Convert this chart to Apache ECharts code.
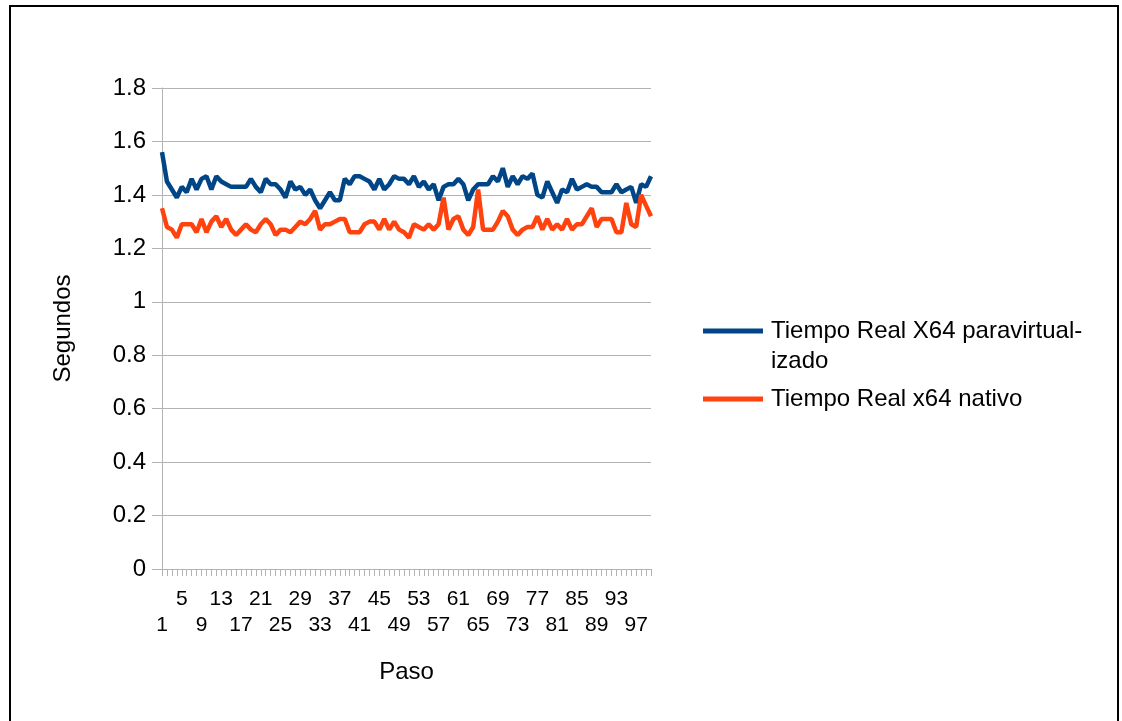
<!DOCTYPE html>
<html>
<head>
<meta charset="utf-8">
<script src="https://cdn.jsdelivr.net/npm/echarts@6/dist/echarts.min.js"></script>
<style>
  html, body { margin: 0; padding: 0; background: #fff; }
  #main { width: 1122px; height: 721px; }
</style>
</head>
<body>
<div id="main"></div>
<script>
// pasos 1..100
var pasos = [];
for (var i = 1; i <= 100; i++) pasos.push(String(i));

var paravirtual = [
  1.56, 1.45, 1.42, 1.39, 1.43, 1.41, 1.46, 1.42, 1.46, 1.47,
  1.42, 1.47, 1.45, 1.44, 1.43, 1.43, 1.43, 1.43, 1.46, 1.43,
  1.41, 1.46, 1.44, 1.44, 1.42, 1.39, 1.45, 1.42, 1.43, 1.40,
  1.42, 1.38, 1.35, 1.38, 1.41, 1.38, 1.38, 1.46, 1.44, 1.47,
  1.47, 1.46, 1.45, 1.42, 1.46, 1.42, 1.44, 1.47, 1.46, 1.46,
  1.44, 1.47, 1.43, 1.45, 1.42, 1.44, 1.38, 1.43, 1.44, 1.44,
  1.46, 1.44, 1.38, 1.42, 1.44, 1.44, 1.44, 1.47, 1.45, 1.50,
  1.43, 1.47, 1.44, 1.47, 1.46, 1.48, 1.40, 1.39, 1.45, 1.41,
  1.37, 1.42, 1.41, 1.46, 1.42, 1.43, 1.44, 1.43, 1.43, 1.41,
  1.41, 1.41, 1.44, 1.41, 1.42, 1.43, 1.37, 1.44, 1.43, 1.47
];

var nativo = [
  1.35, 1.28, 1.27, 1.24, 1.29, 1.29, 1.29, 1.26, 1.31, 1.26,
  1.30, 1.32, 1.28, 1.31, 1.27, 1.25, 1.27, 1.29, 1.27, 1.26,
  1.29, 1.31, 1.29, 1.25, 1.27, 1.27, 1.26, 1.28, 1.30, 1.29,
  1.31, 1.34, 1.27, 1.29, 1.29, 1.30, 1.31, 1.31, 1.26, 1.26,
  1.26, 1.29, 1.30, 1.30, 1.27, 1.31, 1.27, 1.30, 1.27, 1.26,
  1.24, 1.29, 1.28, 1.27, 1.29, 1.27, 1.29, 1.39, 1.27, 1.31,
  1.32, 1.27, 1.25, 1.28, 1.42, 1.27, 1.27, 1.27, 1.30, 1.34,
  1.32, 1.27, 1.25, 1.27, 1.28, 1.28, 1.32, 1.27, 1.31, 1.27,
  1.29, 1.27, 1.31, 1.27, 1.29, 1.29, 1.32, 1.35, 1.28, 1.31,
  1.31, 1.31, 1.26, 1.26, 1.37, 1.29, 1.28, 1.40, 1.36, 1.32
];

var serieNames = ['Tiempo Real X64 paravirtualizado', 'Tiempo Real x64 nativo'];

var font = 'Liberation Sans';
var grisEje = '#b3b3b3';

var chart = echarts.init(document.getElementById('main'));
chart.setOption({
  animation: false,
  color: ['#004586', '#ff420e'],
  textStyle: { fontFamily: font },
  graphic: [{
    type: 'rect',
    shape: { x: 10, y: 6, width: 1108, height: 730 },
    style: { fill: null, stroke: '#000', lineWidth: 2 },
    silent: true
  }],
  grid: { left: 162, right: 471, top: 88, bottom: 152 },
  legend: {
    orient: 'vertical',
    left: 698,
    top: 281,
    itemWidth: 60,
    itemHeight: 5,
    itemGap: 8,
    icon: 'rect',
    data: serieNames,
    // linea vacia delante para que la primera linea quede a la altura del icono
    formatter: function (name) {
      return name === serieNames[0] ? '\nTiempo Real X64 paravirtual-\nizado' : name;
    },
    textStyle: { fontFamily: font, fontSize: 24, color: '#000', lineHeight: 30, padding: [0, 0, 0, 3] }
  },
  xAxis: [{
    // eje principal: fila inferior de etiquetas (1, 9, 17 ... 97)
    type: 'category',
    data: pasos,
    boundaryGap: false,
    position: 'bottom',
    name: 'Paso',
    nameLocation: 'middle',
    nameGap: 91,
    nameTextStyle: { fontFamily: font, fontSize: 24, color: '#000' },
    axisLine: { lineStyle: { color: grisEje, width: 1 } },
    axisTick: { interval: 0, length: 7, lineStyle: { color: grisEje } },
    axisLabel: {
      interval: function (idx) { return idx % 8 === 0; },
      margin: 46,
      fontSize: 21,
      color: '#000'
    },
    splitLine: { show: false }
  }, {
    // solo etiquetas de la fila superior (5, 13 ... 93)
    type: 'category',
    data: pasos,
    boundaryGap: false,
    position: 'bottom',
    offset: 0,
    axisLine: { show: false },
    axisTick: { show: false },
    axisLabel: {
      interval: function (idx) { return idx % 8 === 4; },
      margin: 20,
      fontSize: 21,
      color: '#000'
    },
    splitLine: { show: false }
  }],
  yAxis: {
    type: 'value',
    min: 0,
    max: 1.8,
    interval: 0.2,
    name: 'Segundos',
    nameLocation: 'middle',
    nameGap: 87,
    nameTextStyle: { fontFamily: font, fontSize: 24, color: '#000' },
    axisLine: { show: true, lineStyle: { color: grisEje } },
    axisTick: { show: true, length: 10, lineStyle: { color: grisEje } },
    axisLabel: { fontSize: 24, color: '#000', margin: 16 },
    splitLine: { lineStyle: { color: grisEje } }
  },
  series: [{
    name: serieNames[0],
    type: 'line',
    data: paravirtual,
    showSymbol: false,
    lineStyle: { width: 4.5 }
  }, {
    name: serieNames[1],
    type: 'line',
    data: nativo,
    showSymbol: false,
    lineStyle: { width: 4.5 }
  }]
});
</script>
</body>
</html>
